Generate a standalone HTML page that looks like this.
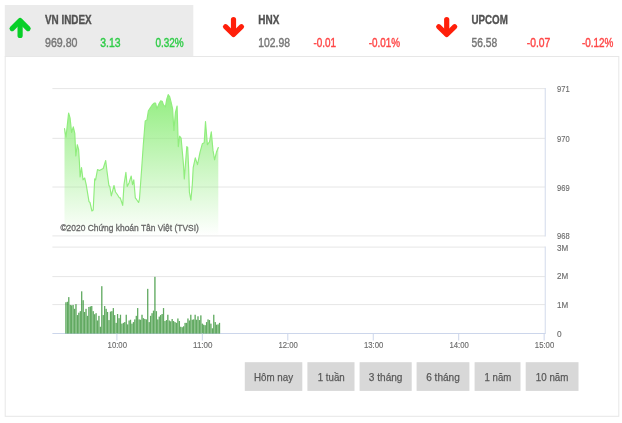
<!DOCTYPE html>
<html><head><meta charset="utf-8"><title>Chart</title><style>html,body{margin:0;padding:0;background:#fff}svg{display:block;will-change:transform}</style></head><body>
<svg width="622" height="423" viewBox="0 0 622 423" font-family='"Liberation Sans", sans-serif'>
<defs>
<linearGradient id="g" gradientUnits="userSpaceOnUse" x1="0" y1="90" x2="0" y2="236">
<stop offset="0" stop-color="#90ed7d" stop-opacity="1"/>
<stop offset="1" stop-color="#90ed7d" stop-opacity="0"/>
</linearGradient>
</defs>
<rect width="622" height="423" fill="#fff"/>
<rect x="4.8" y="5.05" width="188.5" height="51.5" fill="#ebebeb"/>
<rect x="5.2" y="56.5" width="613.6" height="359.8" fill="#fff" stroke="#e7e7e7" stroke-width="1"/>
<g fill="none" stroke="#08cf28" stroke-width="5.2" stroke-linecap="round" stroke-linejoin="round"><path d="M20.1 35.4 V21.3"/><path d="M12.100000000000001 28.6 L20.1 20.6 L28.1 28.6"/></g>
<g fill="none" stroke="#ff1f0a" stroke-width="5.2" stroke-linecap="round" stroke-linejoin="round"><path d="M233.5 19.6 V33.6"/><path d="M225.5 26.700000000000003 L233.5 34.5 L241.5 26.700000000000003"/></g>
<g fill="none" stroke="#ff1f0a" stroke-width="5.2" stroke-linecap="round" stroke-linejoin="round"><path d="M446.7 19.6 V33.6"/><path d="M438.7 26.700000000000003 L446.7 34.5 L454.7 26.700000000000003"/></g>
<text x="45.0" y="23.9" font-size="12.1" fill="#525252" font-weight="bold" text-anchor="start" textLength="46.699999999999996" lengthAdjust="spacingAndGlyphs" stroke="#525252" stroke-width="0.35">VN INDEX</text>
<text x="45.0" y="46.9" font-size="12" fill="#767676" font-weight="normal" text-anchor="start" textLength="32.5" lengthAdjust="spacingAndGlyphs" stroke="#767676" stroke-width="0.4">969.80</text>
<text x="100.19999999999999" y="46.9" font-size="12" fill="#2fcc47" font-weight="normal" text-anchor="start" textLength="20.3" lengthAdjust="spacingAndGlyphs" stroke="#2fcc47" stroke-width="0.4">3.13</text>
<text x="155.4" y="46.9" font-size="12" fill="#2fcc47" font-weight="normal" text-anchor="start" textLength="28.3" lengthAdjust="spacingAndGlyphs" stroke="#2fcc47" stroke-width="0.4">0.32%</text>
<text x="258.29999999999995" y="23.9" font-size="12.1" fill="#525252" font-weight="bold" text-anchor="start" textLength="21.0" lengthAdjust="spacingAndGlyphs" stroke="#525252" stroke-width="0.35">HNX</text>
<text x="258.29999999999995" y="46.9" font-size="12" fill="#767676" font-weight="normal" text-anchor="start" textLength="31.7" lengthAdjust="spacingAndGlyphs" stroke="#767676" stroke-width="0.4">102.98</text>
<text x="313.5" y="46.9" font-size="12" fill="#ff4545" font-weight="normal" text-anchor="start" textLength="22.6" lengthAdjust="spacingAndGlyphs" stroke="#ff4545" stroke-width="0.4">-0.01</text>
<text x="368.7" y="46.9" font-size="12" fill="#ff4545" font-weight="normal" text-anchor="start" textLength="31.400000000000002" lengthAdjust="spacingAndGlyphs" stroke="#ff4545" stroke-width="0.4">-0.01%</text>
<text x="471.5" y="23.9" font-size="12.1" fill="#525252" font-weight="bold" text-anchor="start" textLength="36.3" lengthAdjust="spacingAndGlyphs" stroke="#525252" stroke-width="0.35">UPCOM</text>
<text x="471.5" y="46.9" font-size="12" fill="#767676" font-weight="normal" text-anchor="start" textLength="25.7" lengthAdjust="spacingAndGlyphs" stroke="#767676" stroke-width="0.4">56.58</text>
<text x="526.7" y="46.9" font-size="12" fill="#ff4545" font-weight="normal" text-anchor="start" textLength="23.6" lengthAdjust="spacingAndGlyphs" stroke="#ff4545" stroke-width="0.4">-0.07</text>
<text x="581.9000000000001" y="46.9" font-size="12" fill="#ff4545" font-weight="normal" text-anchor="start" textLength="31.400000000000002" lengthAdjust="spacingAndGlyphs" stroke="#ff4545" stroke-width="0.4">-0.12%</text>
<path d="M52.4 88.6 H545.1" stroke="#e6e6e6" stroke-width="1"/>
<path d="M52.4 138.35 H545.1" stroke="#e6e6e6" stroke-width="1"/>
<path d="M52.4 187.0 H545.1" stroke="#e6e6e6" stroke-width="1"/>
<path d="M52.4 235.9 H545.1" stroke="#e6e6e6" stroke-width="1"/>
<path d="M52.4 247.1 H545.1" stroke="#e6e6e6" stroke-width="1"/>
<path d="M52.4 276.6 H545.1" stroke="#e6e6e6" stroke-width="1"/>
<path d="M52.4 304.6 H545.1" stroke="#e6e6e6" stroke-width="1"/>
<path d="M545.25 88.1 V236.4" stroke="#d6deed" stroke-width="1.1"/>
<path d="M545.25 246.6 V333.5" stroke="#d6deed" stroke-width="1.1"/>
<path d="M52.4 333.5 H545.6" stroke="#ccd6eb" stroke-width="1"/>
<path d="M64.5 128.6 L66 137.1 L68.6 113 L70.1 118.2 L71.6 132.4 L73.3 126.8 L74.8 133.4 L75.8 156 L77.3 144.7 L78.6 149.4 L79.4 162 L80.1 177 L81.5 167.6 L83 179.8 L84.7 178 L86.2 184.6 L89 201.6 L90 202.5 L91.9 211 L93.2 210 L94.7 178.9 L95.6 179.8 L97.5 169.5 L99.4 170.4 L103.2 168.5 L105.7 160.5 L107 171.3 L108.9 185.5 L109.8 186.5 L111.3 195.9 L114 185.5 L115.5 192 L117 194 L119.3 197.8 L120.2 197.8 L122.7 205.4 L124 184.6 L125.9 172.3 L127.2 186.5 L129.1 182.7 L131.2 176 L132.5 184.6 L133.8 179.8 L135.3 197.8 L136.7 199.7 L138.6 202.5 L139.5 198.8 L141.6 169.5 L143.3 144.7 L145.2 121.1 L146.9 120.1 L148.4 110.7 L150.3 107.8 L152.2 105 L154.1 103.1 L155.6 103.1 L156.9 108.8 L158.8 104.1 L160.7 100.9 L162.2 101.2 L163.5 105 L165.4 106.9 L166.7 99.3 L168.2 94.6 L169.6 96.5 L171.1 102.2 L172.6 108.8 L173.9 130.5 L175.4 112.6 L177.1 106 L178.3 146.6 L179.6 136.2 L181.1 138.1 L183.4 163.6 L184.3 178.9 L186.8 146.6 L187.7 147.5 L188.7 169.5 L189.4 192.1 L190.9 200.1 L192.3 184.6 L193.2 167.6 L195.3 157.9 L197.5 164.6 L200 152.3 L202.3 143.8 L204.2 142.8 L205.5 121.6 L207.4 144.7 L209.5 141.9 L211.3 131.9 L213 150.4 L214.6 159.8 L216.4 152.3 L218.3 147.5 L218.3 235.9 L64.5 235.9 Z" fill="url(#g)"/>
<path d="M64.5 128.6 L66 137.1 L68.6 113 L70.1 118.2 L71.6 132.4 L73.3 126.8 L74.8 133.4 L75.8 156 L77.3 144.7 L78.6 149.4 L79.4 162 L80.1 177 L81.5 167.6 L83 179.8 L84.7 178 L86.2 184.6 L89 201.6 L90 202.5 L91.9 211 L93.2 210 L94.7 178.9 L95.6 179.8 L97.5 169.5 L99.4 170.4 L103.2 168.5 L105.7 160.5 L107 171.3 L108.9 185.5 L109.8 186.5 L111.3 195.9 L114 185.5 L115.5 192 L117 194 L119.3 197.8 L120.2 197.8 L122.7 205.4 L124 184.6 L125.9 172.3 L127.2 186.5 L129.1 182.7 L131.2 176 L132.5 184.6 L133.8 179.8 L135.3 197.8 L136.7 199.7 L138.6 202.5 L139.5 198.8 L141.6 169.5 L143.3 144.7 L145.2 121.1 L146.9 120.1 L148.4 110.7 L150.3 107.8 L152.2 105 L154.1 103.1 L155.6 103.1 L156.9 108.8 L158.8 104.1 L160.7 100.9 L162.2 101.2 L163.5 105 L165.4 106.9 L166.7 99.3 L168.2 94.6 L169.6 96.5 L171.1 102.2 L172.6 108.8 L173.9 130.5 L175.4 112.6 L177.1 106 L178.3 146.6 L179.6 136.2 L181.1 138.1 L183.4 163.6 L184.3 178.9 L186.8 146.6 L187.7 147.5 L188.7 169.5 L189.4 192.1 L190.9 200.1 L192.3 184.6 L193.2 167.6 L195.3 157.9 L197.5 164.6 L200 152.3 L202.3 143.8 L204.2 142.8 L205.5 121.6 L207.4 144.7 L209.5 141.9 L211.3 131.9 L213 150.4 L214.6 159.8 L216.4 152.3 L218.3 147.5" fill="none" stroke="#90ed7d" stroke-width="1.15" stroke-linejoin="round" stroke-linecap="round"/>
<rect x="65.23" y="302.30" width="1.4" height="31.20" fill="#3c9c3c" fill-opacity="0.55"/>
<rect x="65.58" y="302.30" width="0.7" height="31.20" fill="#1f7f1f" fill-opacity="0.62"/>
<rect x="66.67" y="301.83" width="1.4" height="31.67" fill="#3c9c3c" fill-opacity="0.55"/>
<rect x="67.02" y="301.83" width="0.7" height="31.67" fill="#1f7f1f" fill-opacity="0.62"/>
<rect x="68.10" y="297.15" width="1.4" height="36.35" fill="#3c9c3c" fill-opacity="0.55"/>
<rect x="68.45" y="297.15" width="0.7" height="36.35" fill="#1f7f1f" fill-opacity="0.62"/>
<rect x="69.54" y="304.95" width="1.4" height="28.55" fill="#3c9c3c" fill-opacity="0.55"/>
<rect x="69.89" y="304.95" width="0.7" height="28.55" fill="#1f7f1f" fill-opacity="0.62"/>
<rect x="70.97" y="305.42" width="1.4" height="28.08" fill="#3c9c3c" fill-opacity="0.55"/>
<rect x="71.32" y="305.42" width="0.7" height="28.08" fill="#1f7f1f" fill-opacity="0.62"/>
<rect x="72.41" y="304.95" width="1.4" height="28.55" fill="#3c9c3c" fill-opacity="0.55"/>
<rect x="72.76" y="304.95" width="0.7" height="28.55" fill="#1f7f1f" fill-opacity="0.62"/>
<rect x="73.84" y="308.85" width="1.4" height="24.65" fill="#3c9c3c" fill-opacity="0.55"/>
<rect x="74.19" y="308.85" width="0.7" height="24.65" fill="#1f7f1f" fill-opacity="0.62"/>
<rect x="75.28" y="304.17" width="1.4" height="29.33" fill="#3c9c3c" fill-opacity="0.55"/>
<rect x="75.63" y="304.17" width="0.7" height="29.33" fill="#1f7f1f" fill-opacity="0.62"/>
<rect x="76.71" y="315.09" width="1.4" height="18.41" fill="#3c9c3c" fill-opacity="0.55"/>
<rect x="77.06" y="315.09" width="0.7" height="18.41" fill="#1f7f1f" fill-opacity="0.62"/>
<rect x="78.15" y="312.75" width="1.4" height="20.75" fill="#3c9c3c" fill-opacity="0.55"/>
<rect x="78.50" y="312.75" width="0.7" height="20.75" fill="#1f7f1f" fill-opacity="0.62"/>
<rect x="79.59" y="311.19" width="1.4" height="22.31" fill="#3c9c3c" fill-opacity="0.55"/>
<rect x="79.94" y="311.19" width="0.7" height="22.31" fill="#1f7f1f" fill-opacity="0.62"/>
<rect x="81.02" y="291.38" width="1.4" height="42.12" fill="#3c9c3c" fill-opacity="0.55"/>
<rect x="81.37" y="291.38" width="0.7" height="42.12" fill="#1f7f1f" fill-opacity="0.62"/>
<rect x="82.46" y="300.27" width="1.4" height="33.23" fill="#3c9c3c" fill-opacity="0.55"/>
<rect x="82.81" y="300.27" width="0.7" height="33.23" fill="#1f7f1f" fill-opacity="0.62"/>
<rect x="83.89" y="311.97" width="1.4" height="21.53" fill="#3c9c3c" fill-opacity="0.55"/>
<rect x="84.24" y="311.97" width="0.7" height="21.53" fill="#1f7f1f" fill-opacity="0.62"/>
<rect x="85.33" y="308.85" width="1.4" height="24.65" fill="#3c9c3c" fill-opacity="0.55"/>
<rect x="85.68" y="308.85" width="0.7" height="24.65" fill="#1f7f1f" fill-opacity="0.62"/>
<rect x="86.76" y="315.87" width="1.4" height="17.63" fill="#3c9c3c" fill-opacity="0.55"/>
<rect x="87.11" y="315.87" width="0.7" height="17.63" fill="#1f7f1f" fill-opacity="0.62"/>
<rect x="88.20" y="306.98" width="1.4" height="26.52" fill="#3c9c3c" fill-opacity="0.55"/>
<rect x="88.55" y="306.98" width="0.7" height="26.52" fill="#1f7f1f" fill-opacity="0.62"/>
<rect x="89.63" y="306.51" width="1.4" height="26.99" fill="#3c9c3c" fill-opacity="0.55"/>
<rect x="89.98" y="306.51" width="0.7" height="26.99" fill="#1f7f1f" fill-opacity="0.62"/>
<rect x="91.07" y="306.04" width="1.4" height="27.46" fill="#3c9c3c" fill-opacity="0.55"/>
<rect x="91.42" y="306.04" width="0.7" height="27.46" fill="#1f7f1f" fill-opacity="0.62"/>
<rect x="92.50" y="311.19" width="1.4" height="22.31" fill="#3c9c3c" fill-opacity="0.55"/>
<rect x="92.85" y="311.19" width="0.7" height="22.31" fill="#1f7f1f" fill-opacity="0.62"/>
<rect x="93.94" y="314.31" width="1.4" height="19.19" fill="#3c9c3c" fill-opacity="0.55"/>
<rect x="94.29" y="314.31" width="0.7" height="19.19" fill="#1f7f1f" fill-opacity="0.62"/>
<rect x="95.38" y="313.22" width="1.4" height="20.28" fill="#3c9c3c" fill-opacity="0.55"/>
<rect x="95.73" y="313.22" width="0.7" height="20.28" fill="#1f7f1f" fill-opacity="0.62"/>
<rect x="96.81" y="320.55" width="1.4" height="12.95" fill="#3c9c3c" fill-opacity="0.55"/>
<rect x="97.16" y="320.55" width="0.7" height="12.95" fill="#1f7f1f" fill-opacity="0.62"/>
<rect x="98.25" y="315.87" width="1.4" height="17.63" fill="#3c9c3c" fill-opacity="0.55"/>
<rect x="98.60" y="315.87" width="0.7" height="17.63" fill="#1f7f1f" fill-opacity="0.62"/>
<rect x="99.68" y="326.79" width="1.4" height="6.71" fill="#3c9c3c" fill-opacity="0.55"/>
<rect x="100.03" y="326.79" width="0.7" height="6.71" fill="#1f7f1f" fill-opacity="0.62"/>
<rect x="101.12" y="286.23" width="1.4" height="47.27" fill="#3c9c3c" fill-opacity="0.55"/>
<rect x="101.47" y="286.23" width="0.7" height="47.27" fill="#1f7f1f" fill-opacity="0.62"/>
<rect x="102.55" y="315.09" width="1.4" height="18.41" fill="#3c9c3c" fill-opacity="0.55"/>
<rect x="102.90" y="315.09" width="0.7" height="18.41" fill="#1f7f1f" fill-opacity="0.62"/>
<rect x="103.99" y="306.04" width="1.4" height="27.46" fill="#3c9c3c" fill-opacity="0.55"/>
<rect x="104.34" y="306.04" width="0.7" height="27.46" fill="#1f7f1f" fill-opacity="0.62"/>
<rect x="105.42" y="308.85" width="1.4" height="24.65" fill="#3c9c3c" fill-opacity="0.55"/>
<rect x="105.77" y="308.85" width="0.7" height="24.65" fill="#1f7f1f" fill-opacity="0.62"/>
<rect x="106.86" y="311.97" width="1.4" height="21.53" fill="#3c9c3c" fill-opacity="0.55"/>
<rect x="107.21" y="311.97" width="0.7" height="21.53" fill="#1f7f1f" fill-opacity="0.62"/>
<rect x="108.30" y="320.08" width="1.4" height="13.42" fill="#3c9c3c" fill-opacity="0.55"/>
<rect x="108.65" y="320.08" width="0.7" height="13.42" fill="#1f7f1f" fill-opacity="0.62"/>
<rect x="109.73" y="311.66" width="1.4" height="21.84" fill="#3c9c3c" fill-opacity="0.55"/>
<rect x="110.08" y="311.66" width="0.7" height="21.84" fill="#1f7f1f" fill-opacity="0.62"/>
<rect x="111.17" y="311.19" width="1.4" height="22.31" fill="#3c9c3c" fill-opacity="0.55"/>
<rect x="111.52" y="311.19" width="0.7" height="22.31" fill="#1f7f1f" fill-opacity="0.62"/>
<rect x="112.60" y="308.07" width="1.4" height="25.43" fill="#3c9c3c" fill-opacity="0.55"/>
<rect x="112.95" y="308.07" width="0.7" height="25.43" fill="#1f7f1f" fill-opacity="0.62"/>
<rect x="114.04" y="315.09" width="1.4" height="18.41" fill="#3c9c3c" fill-opacity="0.55"/>
<rect x="114.39" y="315.09" width="0.7" height="18.41" fill="#1f7f1f" fill-opacity="0.62"/>
<rect x="115.47" y="322.89" width="1.4" height="10.61" fill="#3c9c3c" fill-opacity="0.55"/>
<rect x="115.82" y="322.89" width="0.7" height="10.61" fill="#1f7f1f" fill-opacity="0.62"/>
<rect x="116.91" y="314.00" width="1.4" height="19.50" fill="#3c9c3c" fill-opacity="0.55"/>
<rect x="117.26" y="314.00" width="0.7" height="19.50" fill="#1f7f1f" fill-opacity="0.62"/>
<rect x="118.34" y="318.21" width="1.4" height="15.29" fill="#3c9c3c" fill-opacity="0.55"/>
<rect x="118.69" y="318.21" width="0.7" height="15.29" fill="#1f7f1f" fill-opacity="0.62"/>
<rect x="119.78" y="314.78" width="1.4" height="18.72" fill="#3c9c3c" fill-opacity="0.55"/>
<rect x="120.13" y="314.78" width="0.7" height="18.72" fill="#1f7f1f" fill-opacity="0.62"/>
<rect x="121.21" y="323.67" width="1.4" height="9.83" fill="#3c9c3c" fill-opacity="0.55"/>
<rect x="121.56" y="323.67" width="0.7" height="9.83" fill="#1f7f1f" fill-opacity="0.62"/>
<rect x="122.65" y="322.89" width="1.4" height="10.61" fill="#3c9c3c" fill-opacity="0.55"/>
<rect x="123.00" y="322.89" width="0.7" height="10.61" fill="#1f7f1f" fill-opacity="0.62"/>
<rect x="124.09" y="322.11" width="1.4" height="11.39" fill="#3c9c3c" fill-opacity="0.55"/>
<rect x="124.44" y="322.11" width="0.7" height="11.39" fill="#1f7f1f" fill-opacity="0.62"/>
<rect x="125.52" y="314.78" width="1.4" height="18.72" fill="#3c9c3c" fill-opacity="0.55"/>
<rect x="125.87" y="314.78" width="0.7" height="18.72" fill="#1f7f1f" fill-opacity="0.62"/>
<rect x="126.96" y="324.45" width="1.4" height="9.05" fill="#3c9c3c" fill-opacity="0.55"/>
<rect x="127.31" y="324.45" width="0.7" height="9.05" fill="#1f7f1f" fill-opacity="0.62"/>
<rect x="128.39" y="320.55" width="1.4" height="12.95" fill="#3c9c3c" fill-opacity="0.55"/>
<rect x="128.74" y="320.55" width="0.7" height="12.95" fill="#1f7f1f" fill-opacity="0.62"/>
<rect x="129.83" y="319.77" width="1.4" height="13.73" fill="#3c9c3c" fill-opacity="0.55"/>
<rect x="130.18" y="319.77" width="0.7" height="13.73" fill="#1f7f1f" fill-opacity="0.62"/>
<rect x="131.26" y="323.67" width="1.4" height="9.83" fill="#3c9c3c" fill-opacity="0.55"/>
<rect x="131.61" y="323.67" width="0.7" height="9.83" fill="#1f7f1f" fill-opacity="0.62"/>
<rect x="132.70" y="322.11" width="1.4" height="11.39" fill="#3c9c3c" fill-opacity="0.55"/>
<rect x="133.05" y="322.11" width="0.7" height="11.39" fill="#1f7f1f" fill-opacity="0.62"/>
<rect x="134.13" y="319.46" width="1.4" height="14.04" fill="#3c9c3c" fill-opacity="0.55"/>
<rect x="134.48" y="319.46" width="0.7" height="14.04" fill="#1f7f1f" fill-opacity="0.62"/>
<rect x="135.57" y="315.87" width="1.4" height="17.63" fill="#3c9c3c" fill-opacity="0.55"/>
<rect x="135.92" y="315.87" width="0.7" height="17.63" fill="#1f7f1f" fill-opacity="0.62"/>
<rect x="137.01" y="308.07" width="1.4" height="25.43" fill="#3c9c3c" fill-opacity="0.55"/>
<rect x="137.36" y="308.07" width="0.7" height="25.43" fill="#1f7f1f" fill-opacity="0.62"/>
<rect x="138.44" y="319.46" width="1.4" height="14.04" fill="#3c9c3c" fill-opacity="0.55"/>
<rect x="138.79" y="319.46" width="0.7" height="14.04" fill="#1f7f1f" fill-opacity="0.62"/>
<rect x="139.88" y="319.77" width="1.4" height="13.73" fill="#3c9c3c" fill-opacity="0.55"/>
<rect x="140.23" y="319.77" width="0.7" height="13.73" fill="#1f7f1f" fill-opacity="0.62"/>
<rect x="141.31" y="314.78" width="1.4" height="18.72" fill="#3c9c3c" fill-opacity="0.55"/>
<rect x="141.66" y="314.78" width="0.7" height="18.72" fill="#1f7f1f" fill-opacity="0.62"/>
<rect x="142.75" y="318.21" width="1.4" height="15.29" fill="#3c9c3c" fill-opacity="0.55"/>
<rect x="143.10" y="318.21" width="0.7" height="15.29" fill="#1f7f1f" fill-opacity="0.62"/>
<rect x="144.18" y="318.99" width="1.4" height="14.51" fill="#3c9c3c" fill-opacity="0.55"/>
<rect x="144.53" y="318.99" width="0.7" height="14.51" fill="#1f7f1f" fill-opacity="0.62"/>
<rect x="145.62" y="319.46" width="1.4" height="14.04" fill="#3c9c3c" fill-opacity="0.55"/>
<rect x="145.97" y="319.46" width="0.7" height="14.04" fill="#1f7f1f" fill-opacity="0.62"/>
<rect x="147.05" y="288.88" width="1.4" height="44.62" fill="#3c9c3c" fill-opacity="0.55"/>
<rect x="147.40" y="288.88" width="0.7" height="44.62" fill="#1f7f1f" fill-opacity="0.62"/>
<rect x="148.49" y="322.11" width="1.4" height="11.39" fill="#3c9c3c" fill-opacity="0.55"/>
<rect x="148.84" y="322.11" width="0.7" height="11.39" fill="#1f7f1f" fill-opacity="0.62"/>
<rect x="149.92" y="315.87" width="1.4" height="17.63" fill="#3c9c3c" fill-opacity="0.55"/>
<rect x="150.27" y="315.87" width="0.7" height="17.63" fill="#1f7f1f" fill-opacity="0.62"/>
<rect x="151.36" y="313.22" width="1.4" height="20.28" fill="#3c9c3c" fill-opacity="0.55"/>
<rect x="151.71" y="313.22" width="0.7" height="20.28" fill="#1f7f1f" fill-opacity="0.62"/>
<rect x="152.80" y="310.72" width="1.4" height="22.78" fill="#3c9c3c" fill-opacity="0.55"/>
<rect x="153.15" y="310.72" width="0.7" height="22.78" fill="#1f7f1f" fill-opacity="0.62"/>
<rect x="154.23" y="276.87" width="1.4" height="56.63" fill="#3c9c3c" fill-opacity="0.55"/>
<rect x="154.58" y="276.87" width="0.7" height="56.63" fill="#1f7f1f" fill-opacity="0.62"/>
<rect x="155.67" y="311.19" width="1.4" height="22.31" fill="#3c9c3c" fill-opacity="0.55"/>
<rect x="156.02" y="311.19" width="0.7" height="22.31" fill="#1f7f1f" fill-opacity="0.62"/>
<rect x="157.10" y="319.46" width="1.4" height="14.04" fill="#3c9c3c" fill-opacity="0.55"/>
<rect x="157.45" y="319.46" width="0.7" height="14.04" fill="#1f7f1f" fill-opacity="0.62"/>
<rect x="158.54" y="316.65" width="1.4" height="16.85" fill="#3c9c3c" fill-opacity="0.55"/>
<rect x="158.89" y="316.65" width="0.7" height="16.85" fill="#1f7f1f" fill-opacity="0.62"/>
<rect x="159.97" y="315.09" width="1.4" height="18.41" fill="#3c9c3c" fill-opacity="0.55"/>
<rect x="160.32" y="315.09" width="0.7" height="18.41" fill="#1f7f1f" fill-opacity="0.62"/>
<rect x="161.41" y="314.00" width="1.4" height="19.50" fill="#3c9c3c" fill-opacity="0.55"/>
<rect x="161.76" y="314.00" width="0.7" height="19.50" fill="#1f7f1f" fill-opacity="0.62"/>
<rect x="162.84" y="308.07" width="1.4" height="25.43" fill="#3c9c3c" fill-opacity="0.55"/>
<rect x="163.19" y="308.07" width="0.7" height="25.43" fill="#1f7f1f" fill-opacity="0.62"/>
<rect x="164.28" y="321.02" width="1.4" height="12.48" fill="#3c9c3c" fill-opacity="0.55"/>
<rect x="164.63" y="321.02" width="0.7" height="12.48" fill="#1f7f1f" fill-opacity="0.62"/>
<rect x="165.72" y="320.08" width="1.4" height="13.42" fill="#3c9c3c" fill-opacity="0.55"/>
<rect x="166.07" y="320.08" width="0.7" height="13.42" fill="#1f7f1f" fill-opacity="0.62"/>
<rect x="167.15" y="314.78" width="1.4" height="18.72" fill="#3c9c3c" fill-opacity="0.55"/>
<rect x="167.50" y="314.78" width="0.7" height="18.72" fill="#1f7f1f" fill-opacity="0.62"/>
<rect x="168.59" y="320.55" width="1.4" height="12.95" fill="#3c9c3c" fill-opacity="0.55"/>
<rect x="168.94" y="320.55" width="0.7" height="12.95" fill="#1f7f1f" fill-opacity="0.62"/>
<rect x="170.02" y="321.33" width="1.4" height="12.17" fill="#3c9c3c" fill-opacity="0.55"/>
<rect x="170.37" y="321.33" width="0.7" height="12.17" fill="#1f7f1f" fill-opacity="0.62"/>
<rect x="171.46" y="318.99" width="1.4" height="14.51" fill="#3c9c3c" fill-opacity="0.55"/>
<rect x="171.81" y="318.99" width="0.7" height="14.51" fill="#1f7f1f" fill-opacity="0.62"/>
<rect x="172.89" y="321.02" width="1.4" height="12.48" fill="#3c9c3c" fill-opacity="0.55"/>
<rect x="173.24" y="321.02" width="0.7" height="12.48" fill="#1f7f1f" fill-opacity="0.62"/>
<rect x="174.33" y="322.11" width="1.4" height="11.39" fill="#3c9c3c" fill-opacity="0.55"/>
<rect x="174.68" y="322.11" width="0.7" height="11.39" fill="#1f7f1f" fill-opacity="0.62"/>
<rect x="175.76" y="322.89" width="1.4" height="10.61" fill="#3c9c3c" fill-opacity="0.55"/>
<rect x="176.11" y="322.89" width="0.7" height="10.61" fill="#1f7f1f" fill-opacity="0.62"/>
<rect x="177.20" y="318.52" width="1.4" height="14.98" fill="#3c9c3c" fill-opacity="0.55"/>
<rect x="177.55" y="318.52" width="0.7" height="14.98" fill="#1f7f1f" fill-opacity="0.62"/>
<rect x="178.63" y="321.02" width="1.4" height="12.48" fill="#3c9c3c" fill-opacity="0.55"/>
<rect x="178.98" y="321.02" width="0.7" height="12.48" fill="#1f7f1f" fill-opacity="0.62"/>
<rect x="180.07" y="326.79" width="1.4" height="6.71" fill="#3c9c3c" fill-opacity="0.55"/>
<rect x="180.42" y="326.79" width="0.7" height="6.71" fill="#1f7f1f" fill-opacity="0.62"/>
<rect x="181.51" y="327.26" width="1.4" height="6.24" fill="#3c9c3c" fill-opacity="0.55"/>
<rect x="181.86" y="327.26" width="0.7" height="6.24" fill="#1f7f1f" fill-opacity="0.62"/>
<rect x="182.94" y="326.32" width="1.4" height="7.18" fill="#3c9c3c" fill-opacity="0.55"/>
<rect x="183.29" y="326.32" width="0.7" height="7.18" fill="#1f7f1f" fill-opacity="0.62"/>
<rect x="184.38" y="322.89" width="1.4" height="10.61" fill="#3c9c3c" fill-opacity="0.55"/>
<rect x="184.73" y="322.89" width="0.7" height="10.61" fill="#1f7f1f" fill-opacity="0.62"/>
<rect x="185.81" y="322.89" width="1.4" height="10.61" fill="#3c9c3c" fill-opacity="0.55"/>
<rect x="186.16" y="322.89" width="0.7" height="10.61" fill="#1f7f1f" fill-opacity="0.62"/>
<rect x="187.25" y="318.52" width="1.4" height="14.98" fill="#3c9c3c" fill-opacity="0.55"/>
<rect x="187.60" y="318.52" width="0.7" height="14.98" fill="#1f7f1f" fill-opacity="0.62"/>
<rect x="188.68" y="320.55" width="1.4" height="12.95" fill="#3c9c3c" fill-opacity="0.55"/>
<rect x="189.03" y="320.55" width="0.7" height="12.95" fill="#1f7f1f" fill-opacity="0.62"/>
<rect x="190.12" y="314.78" width="1.4" height="18.72" fill="#3c9c3c" fill-opacity="0.55"/>
<rect x="190.47" y="314.78" width="0.7" height="18.72" fill="#1f7f1f" fill-opacity="0.62"/>
<rect x="191.55" y="319.77" width="1.4" height="13.73" fill="#3c9c3c" fill-opacity="0.55"/>
<rect x="191.90" y="319.77" width="0.7" height="13.73" fill="#1f7f1f" fill-opacity="0.62"/>
<rect x="192.99" y="319.46" width="1.4" height="14.04" fill="#3c9c3c" fill-opacity="0.55"/>
<rect x="193.34" y="319.46" width="0.7" height="14.04" fill="#1f7f1f" fill-opacity="0.62"/>
<rect x="194.43" y="314.78" width="1.4" height="18.72" fill="#3c9c3c" fill-opacity="0.55"/>
<rect x="194.78" y="314.78" width="0.7" height="18.72" fill="#1f7f1f" fill-opacity="0.62"/>
<rect x="195.86" y="319.77" width="1.4" height="13.73" fill="#3c9c3c" fill-opacity="0.55"/>
<rect x="196.21" y="319.77" width="0.7" height="13.73" fill="#1f7f1f" fill-opacity="0.62"/>
<rect x="197.30" y="316.34" width="1.4" height="17.16" fill="#3c9c3c" fill-opacity="0.55"/>
<rect x="197.65" y="316.34" width="0.7" height="17.16" fill="#1f7f1f" fill-opacity="0.62"/>
<rect x="198.73" y="320.08" width="1.4" height="13.42" fill="#3c9c3c" fill-opacity="0.55"/>
<rect x="199.08" y="320.08" width="0.7" height="13.42" fill="#1f7f1f" fill-opacity="0.62"/>
<rect x="200.17" y="315.40" width="1.4" height="18.10" fill="#3c9c3c" fill-opacity="0.55"/>
<rect x="200.52" y="315.40" width="0.7" height="18.10" fill="#1f7f1f" fill-opacity="0.62"/>
<rect x="201.60" y="323.67" width="1.4" height="9.83" fill="#3c9c3c" fill-opacity="0.55"/>
<rect x="201.95" y="323.67" width="0.7" height="9.83" fill="#1f7f1f" fill-opacity="0.62"/>
<rect x="203.04" y="324.76" width="1.4" height="8.74" fill="#3c9c3c" fill-opacity="0.55"/>
<rect x="203.39" y="324.76" width="0.7" height="8.74" fill="#1f7f1f" fill-opacity="0.62"/>
<rect x="204.47" y="325.23" width="1.4" height="8.27" fill="#3c9c3c" fill-opacity="0.55"/>
<rect x="204.82" y="325.23" width="0.7" height="8.27" fill="#1f7f1f" fill-opacity="0.62"/>
<rect x="205.91" y="322.11" width="1.4" height="11.39" fill="#3c9c3c" fill-opacity="0.55"/>
<rect x="206.26" y="322.11" width="0.7" height="11.39" fill="#1f7f1f" fill-opacity="0.62"/>
<rect x="207.34" y="319.46" width="1.4" height="14.04" fill="#3c9c3c" fill-opacity="0.55"/>
<rect x="207.69" y="319.46" width="0.7" height="14.04" fill="#1f7f1f" fill-opacity="0.62"/>
<rect x="208.78" y="320.08" width="1.4" height="13.42" fill="#3c9c3c" fill-opacity="0.55"/>
<rect x="209.13" y="320.08" width="0.7" height="13.42" fill="#1f7f1f" fill-opacity="0.62"/>
<rect x="210.22" y="323.67" width="1.4" height="9.83" fill="#3c9c3c" fill-opacity="0.55"/>
<rect x="210.57" y="323.67" width="0.7" height="9.83" fill="#1f7f1f" fill-opacity="0.62"/>
<rect x="211.65" y="328.35" width="1.4" height="5.15" fill="#3c9c3c" fill-opacity="0.55"/>
<rect x="212.00" y="328.35" width="0.7" height="5.15" fill="#1f7f1f" fill-opacity="0.62"/>
<rect x="213.09" y="314.78" width="1.4" height="18.72" fill="#3c9c3c" fill-opacity="0.55"/>
<rect x="213.44" y="314.78" width="0.7" height="18.72" fill="#1f7f1f" fill-opacity="0.62"/>
<rect x="214.52" y="322.11" width="1.4" height="11.39" fill="#3c9c3c" fill-opacity="0.55"/>
<rect x="214.87" y="322.11" width="0.7" height="11.39" fill="#1f7f1f" fill-opacity="0.62"/>
<rect x="215.96" y="324.76" width="1.4" height="8.74" fill="#3c9c3c" fill-opacity="0.55"/>
<rect x="216.31" y="324.76" width="0.7" height="8.74" fill="#1f7f1f" fill-opacity="0.62"/>
<rect x="217.39" y="324.45" width="1.4" height="9.05" fill="#3c9c3c" fill-opacity="0.55"/>
<rect x="217.74" y="324.45" width="0.7" height="9.05" fill="#1f7f1f" fill-opacity="0.62"/>
<rect x="218.83" y="322.89" width="1.4" height="10.61" fill="#3c9c3c" fill-opacity="0.55"/>
<rect x="219.18" y="322.89" width="0.7" height="10.61" fill="#1f7f1f" fill-opacity="0.62"/>
<path d="M116.9 333.5 V340.5" stroke="#ccd6eb" stroke-width="1"/>
<text x="117.30000000000001" y="347.9" font-size="9.8" fill="#6c6c6c" font-weight="normal" text-anchor="middle" textLength="19.4" lengthAdjust="spacingAndGlyphs" stroke="#6c6c6c" stroke-width="0.15">10:00</text>
<path d="M202.35 333.5 V340.5" stroke="#ccd6eb" stroke-width="1"/>
<text x="202.75" y="347.9" font-size="9.8" fill="#6c6c6c" font-weight="normal" text-anchor="middle" textLength="19.4" lengthAdjust="spacingAndGlyphs" stroke="#6c6c6c" stroke-width="0.15">11:00</text>
<path d="M287.8 333.5 V340.5" stroke="#ccd6eb" stroke-width="1"/>
<text x="288.2" y="347.9" font-size="9.8" fill="#6c6c6c" font-weight="normal" text-anchor="middle" textLength="19.4" lengthAdjust="spacingAndGlyphs" stroke="#6c6c6c" stroke-width="0.15">12:00</text>
<path d="M373.25 333.5 V340.5" stroke="#ccd6eb" stroke-width="1"/>
<text x="373.65" y="347.9" font-size="9.8" fill="#6c6c6c" font-weight="normal" text-anchor="middle" textLength="19.4" lengthAdjust="spacingAndGlyphs" stroke="#6c6c6c" stroke-width="0.15">13:00</text>
<path d="M458.7 333.5 V340.5" stroke="#ccd6eb" stroke-width="1"/>
<text x="459.09999999999997" y="347.9" font-size="9.8" fill="#6c6c6c" font-weight="normal" text-anchor="middle" textLength="19.4" lengthAdjust="spacingAndGlyphs" stroke="#6c6c6c" stroke-width="0.15">14:00</text>
<path d="M544.15 333.5 V340.5" stroke="#ccd6eb" stroke-width="1"/>
<text x="544.55" y="347.9" font-size="9.8" fill="#6c6c6c" font-weight="normal" text-anchor="middle" textLength="19.4" lengthAdjust="spacingAndGlyphs" stroke="#6c6c6c" stroke-width="0.15">15:00</text>
<text x="557.0" y="92.4" font-size="9.8" fill="#6c6c6c" font-weight="normal" text-anchor="start" textLength="12.6" lengthAdjust="spacingAndGlyphs" stroke="#6c6c6c" stroke-width="0.15">971</text>
<text x="557.0" y="141.9" font-size="9.8" fill="#6c6c6c" font-weight="normal" text-anchor="start" textLength="12.6" lengthAdjust="spacingAndGlyphs" stroke="#6c6c6c" stroke-width="0.15">970</text>
<text x="557.0" y="190.7" font-size="9.8" fill="#6c6c6c" font-weight="normal" text-anchor="start" textLength="12.6" lengthAdjust="spacingAndGlyphs" stroke="#6c6c6c" stroke-width="0.15">969</text>
<text x="557.0" y="238.8" font-size="9.8" fill="#6c6c6c" font-weight="normal" text-anchor="start" textLength="12.6" lengthAdjust="spacingAndGlyphs" stroke="#6c6c6c" stroke-width="0.15">968</text>
<text x="557.0" y="250.9" font-size="9.8" fill="#6c6c6c" font-weight="normal" text-anchor="start" textLength="11.2" lengthAdjust="spacingAndGlyphs" stroke="#6c6c6c" stroke-width="0.15">3M</text>
<text x="557.0" y="279.1" font-size="9.8" fill="#6c6c6c" font-weight="normal" text-anchor="start" textLength="11.2" lengthAdjust="spacingAndGlyphs" stroke="#6c6c6c" stroke-width="0.15">2M</text>
<text x="557.0" y="307.5" font-size="9.8" fill="#6c6c6c" font-weight="normal" text-anchor="start" textLength="11.2" lengthAdjust="spacingAndGlyphs" stroke="#6c6c6c" stroke-width="0.15">1M</text>
<text x="557.0" y="337.2" font-size="9.8" fill="#6c6c6c" font-weight="normal" text-anchor="start" textLength="4.6" lengthAdjust="spacingAndGlyphs" stroke="#6c6c6c" stroke-width="0.15">0</text>
<text x="60.4" y="230.9" font-size="9.5" fill="#666" font-weight="normal" text-anchor="start" textLength="138.4" lengthAdjust="spacingAndGlyphs" stroke="#666" stroke-width="0.3">©2020 Chứng khoán Tân Việt (TVSI)</text>
<rect x="244.8" y="362.2" width="57.5" height="28.7" fill="#d8d8d8"/>
<text x="273.55" y="381.2" font-size="11.5" fill="#585858" font-weight="normal" text-anchor="middle" textLength="39.099999999999994" lengthAdjust="spacingAndGlyphs" stroke="#585858" stroke-width="0.25">Hôm nay</text>
<rect x="307.4" y="362.2" width="47.1" height="28.7" fill="#d8d8d8"/>
<text x="331.25" y="381.2" font-size="11.5" fill="#585858" font-weight="normal" text-anchor="middle" textLength="27.1" lengthAdjust="spacingAndGlyphs" stroke="#585858" stroke-width="0.25">1 tuần</text>
<rect x="359.6" y="362.2" width="52.1" height="28.7" fill="#d8d8d8"/>
<text x="385.65" y="381.2" font-size="11.5" fill="#585858" font-weight="normal" text-anchor="middle" textLength="33.599999999999994" lengthAdjust="spacingAndGlyphs" stroke="#585858" stroke-width="0.25">3 tháng</text>
<rect x="416.6" y="362.2" width="52.8" height="28.7" fill="#d8d8d8"/>
<text x="443.0" y="381.2" font-size="11.5" fill="#585858" font-weight="normal" text-anchor="middle" textLength="33.599999999999994" lengthAdjust="spacingAndGlyphs" stroke="#585858" stroke-width="0.25">6 tháng</text>
<rect x="474.6" y="362.2" width="45.9" height="28.7" fill="#d8d8d8"/>
<text x="497.95" y="381.2" font-size="11.5" fill="#585858" font-weight="normal" text-anchor="middle" textLength="26.7" lengthAdjust="spacingAndGlyphs" stroke="#585858" stroke-width="0.25">1 năm</text>
<rect x="525.7" y="362.2" width="52.8" height="28.7" fill="#d8d8d8"/>
<text x="552.1" y="381.2" font-size="11.5" fill="#585858" font-weight="normal" text-anchor="middle" textLength="32.5" lengthAdjust="spacingAndGlyphs" stroke="#585858" stroke-width="0.25">10 năm</text>
</svg>
</body></html>
